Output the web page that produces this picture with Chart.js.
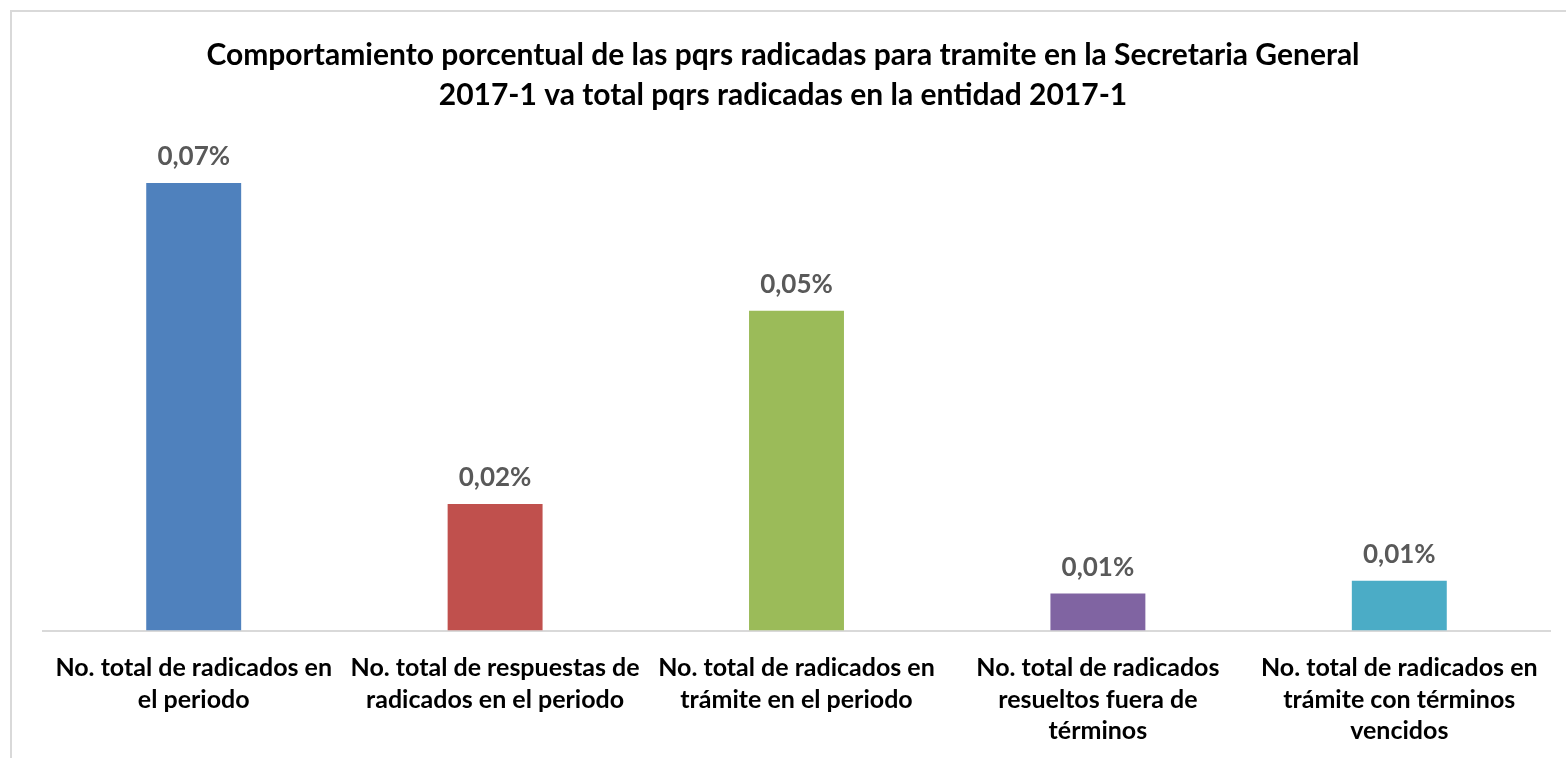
<!DOCTYPE html>
<html>
<head>
<meta charset="utf-8">
<script src="https://cdn.jsdelivr.net/npm/chart.js@4.4.1/dist/chart.umd.min.js"></script>
<style>
    html, body { margin: 0; padding: 0; background: #fff; overflow: hidden; }
    .frame {
        position: absolute; left: 10px; top: 10px; width: 1570px; height: 760px;
        border-left: 2px solid #d9d9d9; border-top: 2px solid #d9d9d9;
    }
    .wrap { position: absolute; left: 0; top: 0; width: 1566px; height: 761px; }
</style>
</head>
<body>
<div class="frame"></div>
<div class="wrap"><canvas id="pqrsChart"></canvas></div>
<script>
// Chart data
const categories = [
    ['No. total de radicados en', 'el periodo'],
    ['No. total de respuestas de', 'radicados en el periodo'],
    ['No. total de radicados en', 'trámite en el periodo'],
    ['No. total de radicados', 'resueltos fuera de', 'términos'],
    ['No. total de radicados en', 'trámite con términos', 'vencidos']
];
const percentValues = [0.07, 0.0198, 0.05, 0.0058, 0.0078];
const barColors = ['#4F81BD', '#C0504D', '#9BBB59', '#8064A2', '#4BACC6'];
const titleLines = [
    'Comportamiento porcentual de las pqrs radicadas para tramite en la Secretaria General',
    '2017-1 va total pqrs radicadas en la entidad 2017-1'
];

const fontFamily = 'Lato, "Open Sans", sans-serif';

// title centred on the whole canvas (the built-in one centres on the plot area)
const pageTitle = {
    id: 'pageTitle',
    afterDraw(chart) {
        const ctx = chart.ctx;
        ctx.save();
        ctx.font = 'bold 30px ' + fontFamily;
        ctx.fillStyle = '#000';
        ctx.textAlign = 'center';
        ctx.textBaseline = 'middle';
        titleLines.forEach((line, i) => {
            ctx.fillText(line, chart.width / 2, 55 + i * 40);
        });
        ctx.restore();
    }
};

// value labels above each bar
const valueLabels = {
    id: 'valueLabels',
    afterDatasetsDraw(chart) {
        const ctx = chart.ctx;
        const meta = chart.getDatasetMeta(0);
        ctx.save();
        ctx.font = 'bold 26px ' + fontFamily;
        ctx.fillStyle = '#595959';
        ctx.textAlign = 'center';
        ctx.textBaseline = 'middle';
        meta.data.forEach((bar, i) => {
            const txt = percentValues[i].toFixed(2).replace('.', ',') + '%';
            ctx.fillText(txt, bar.x, bar.y - 26);
        });
        ctx.restore();
    }
};

const ctx = document.getElementById('pqrsChart').getContext('2d');
new Chart(ctx, {
    type: 'bar',
    data: {
        labels: categories,
        datasets: [{
            data: percentValues,
            backgroundColor: barColors,
            categoryPercentage: 1,
            barPercentage: 0.315
        }]
    },
    options: {
        responsive: true,
        maintainAspectRatio: false,
        animation: false,
        layout: {
            padding: { left: 43, right: 16, top: 119, bottom: 0 }
        },
        plugins: {
            legend: { display: false },
            tooltip: { enabled: false },
            title: { display: false }
        },
        scales: {
            x: {
                grid: { display: false },
                border: { color: '#d9d9d9', width: 2 },
                ticks: {
                    color: '#000',
                    maxRotation: 0,
                    autoSkip: false,
                    padding: 14,
                    font: { family: fontFamily, size: 25, weight: 'bold', lineHeight: 1.26 }
                }
            },
            y: {
                display: false,
                min: 0,
                max: 0.08
            }
        }
    },
    plugins: [valueLabels, pageTitle]
});
</script>
</body>
</html>
